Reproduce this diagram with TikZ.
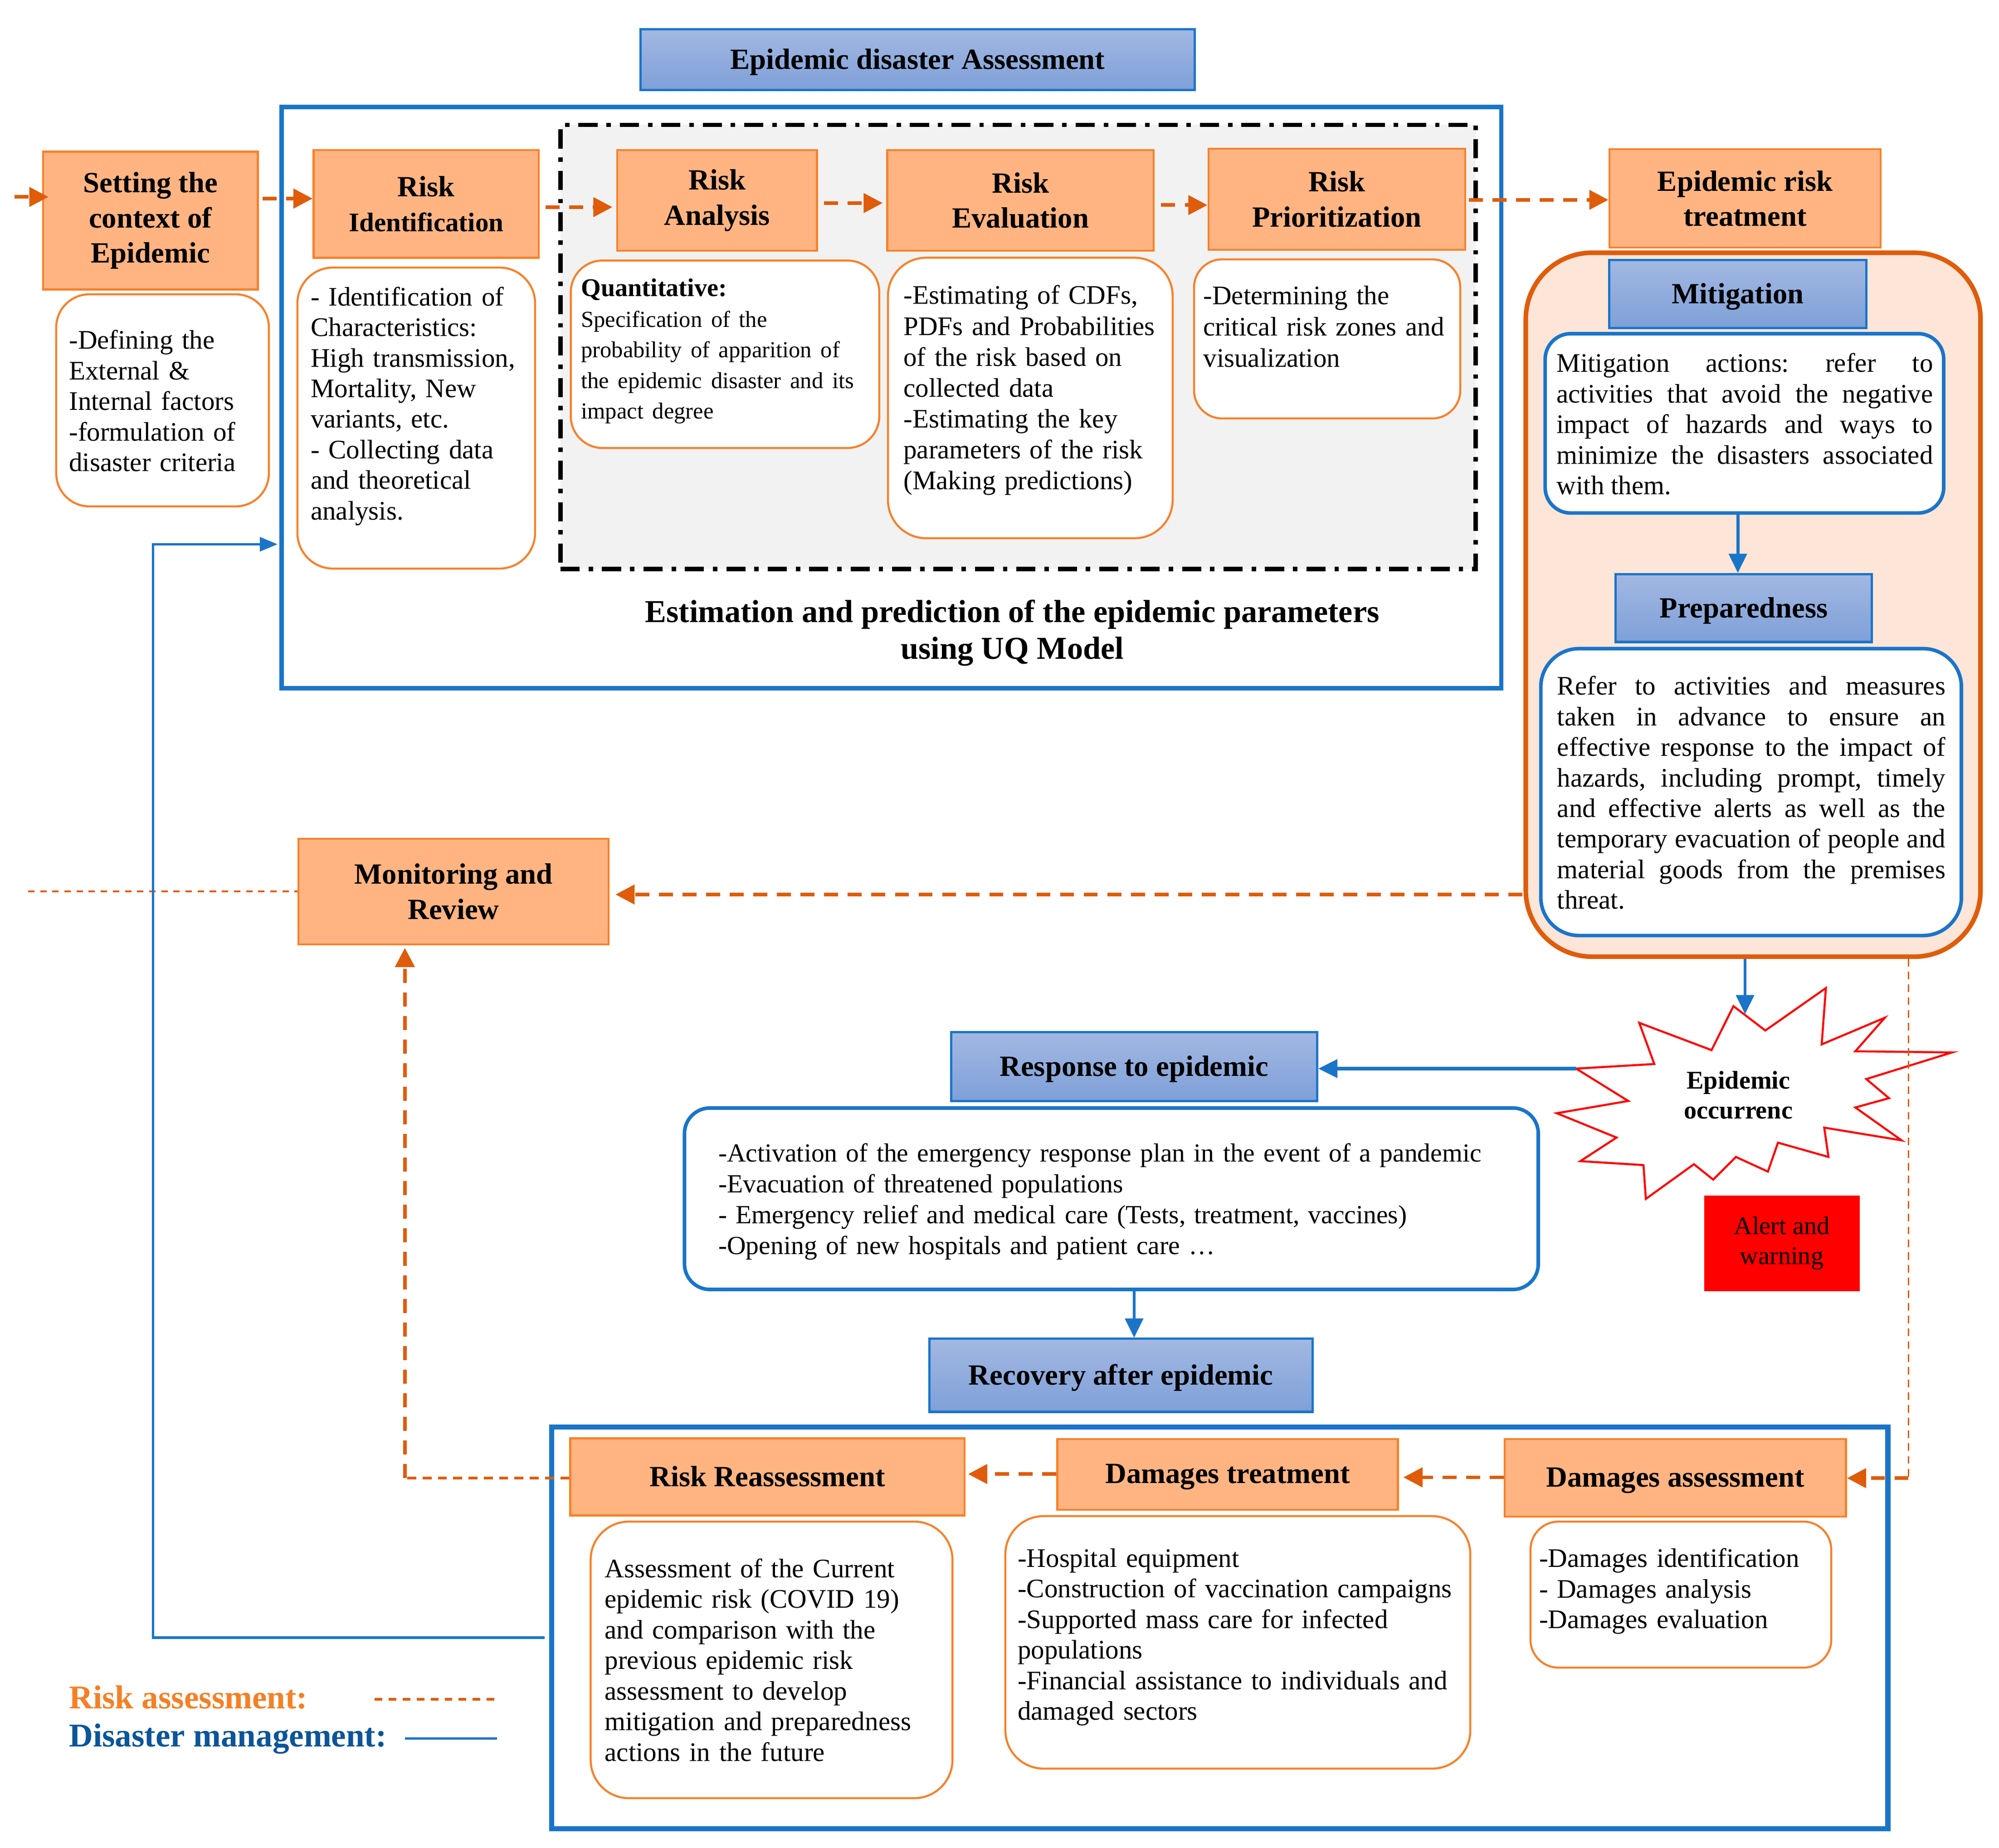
\documentclass[tikz,border=0pt]{standalone}
\usepackage{fontspec}
\setmainfont{Liberation Serif}
\usetikzlibrary{arrows.meta,calc}
\hyphenpenalty=10000
\exhyphenpenalty=10000
\frenchspacing
\definecolor{ofill}{HTML}{FFB482}
\definecolor{oborder}{HTML}{F7812A}
\definecolor{darkor}{HTML}{DF5C0A}
\definecolor{peach}{HTML}{FDE5D7}
\definecolor{blueline}{HTML}{1A75C9}
\definecolor{gradtop}{HTML}{A3B8E2}
\definecolor{gradbot}{HTML}{7EA0D8}
\definecolor{grayfill}{HTML}{F2F2F2}
\definecolor{legor}{HTML}{F58025}
\definecolor{legblue}{HTML}{0B5599}
\newcommand\fsz[2]{\fontsize{#1}{#2}\selectfont}
\begin{document}
\begin{tikzpicture}[x=1pt,y=-1pt,
 obox/.style={draw=oborder, fill=ofill, line width=1.6pt, inner sep=0pt, align=center, font=\bfseries\fsz{23}{27.5}},
 oline/.style={obox, text depth=1pt},
 bbox/.style={draw=blueline, line width=1.8pt, top color=gradtop, bottom color=gradbot, inner sep=0pt, align=center, font=\bfseries\fsz{23}{27.5}, text depth=1pt},
 dbox/.style={draw=oborder, fill=white, line width=1.6pt, inner sep=0pt, rounded corners=26pt},
 wbox/.style={draw=blueline, fill=white, line width=2.8pt, inner sep=0pt},
 dtext/.style={anchor=north west, inner sep=0pt, align=left, font=\fsz{21}{24}},
 jtext/.style={anchor=north west, inner sep=0pt, align=justify, font=\fsz{21}{24}\frenchspacing},
 oarr/.style={draw=darkor, line width=2.8pt, dash pattern=on 11pt off 7.5pt, -{Triangle[length=15pt,width=15pt]}},
 othin/.style={draw=darkor, line width=1pt, dash pattern=on 6pt off 4pt},
 othick/.style={draw=darkor, line width=2pt, dash pattern=on 7pt off 5pt},
 odot/.style={draw=darkor, line width=1.5pt, dash pattern=on 5pt off 4.5pt},
 barr/.style={draw=blueline, line width=2.4pt, -{Triangle[length=15pt,width=14pt]}},
]
\useasboundingbox (0,0) rectangle (1568,1449.6);

% ---------- background frames ----------
\node[draw=black, fill=grayfill, line width=3.5pt, dash pattern=on 15pt off 7pt on 3.5pt off 7pt, minimum width=717.8pt, minimum height=348.4pt, inner sep=0pt] (ddframe) at (798.6,272.2) {};
\node[draw=blueline, line width=3.5pt, minimum width=956.6pt, minimum height=456pt, inner sep=0pt] (assessframe) at (699.3,312) {};
\node[draw=darkor, fill=peach, line width=3.6pt, rounded corners=52pt, minimum width=356.7pt, minimum height=552.3pt, inner sep=0pt] (container) at (1375.15,474.45) {};
\node[draw=blueline, line width=4pt, minimum width=1048.1pt, minimum height=315.1pt, inner sep=0pt] (botframe) at (956.75,1277.25) {};

% ---------- title ----------
\node[bbox, minimum width=434.5pt, minimum height=47.9pt] (title) at (719.75,46.75) {Epidemic disaster Assessment};

% ---------- top row ----------
\node[obox, minimum width=168.4pt, minimum height=108.2pt] (setting) at (118,173.1) {Setting the\\context of\\Epidemic};
\node[dbox, minimum width=166.8pt, minimum height=166.4pt] (settingdesc) at (127.5,314.1) {};
\node[dtext, text width=152pt] (settingtxt) at (54,258.9) {-Defining the\\External \&\\Internal factors\\-formulation of\\disaster criteria};

\node[obox, minimum width=176.6pt, minimum height=84.4pt] (riskid) at (334.3,160) {Risk\\{\fsz{21}{27.5}Identification}};
\node[dbox, minimum width=186.4pt, minimum height=236.2pt, rounded corners=28pt] (riskiddesc) at (326.5,328) {};
\node[dtext, text width=172pt] (riskidtxt) at (243.5,224.8) {- Identification of\\Characteristics:\\High transmission,\\Mortality, New\\variants, etc.\\- Collecting data\\and theoretical\\analysis.};

\node[obox, minimum width=156.6pt, minimum height=78.9pt] (analysis) at (562.5,157.25) {Risk\\Analysis};
\node[dbox, minimum width=242pt, minimum height=147.1pt, rounded corners=25pt] (analysisdesc) at (568.7,277.95) {};
\node[dtext, text width=230pt] (analysistxt) at (455.6,218.5) {{\bfseries\fsz{20}{24}Quantitative:}\\{\fsz{18}{24}Specification of the\\probability of apparition of\\the epidemic disaster and its\\impact degree}};

\node[obox, minimum width=209.1pt, minimum height=78.9pt] (eval) at (800.45,157.25) {Risk\\Evaluation};
\node[dbox, minimum width=223.3pt, minimum height=220.1pt, rounded corners=30pt] (evaldesc) at (808.15,312.25) {};
\node[dtext, text width=208pt, font=\fsz{21}{24.2}] (evaltxt) at (708.5,223.7) {-Estimating of CDFs,\\PDFs and Probabilities\\of the risk based on\\collected data\\-Estimating the key\\parameters of the risk\\(Making predictions)};

\node[obox, minimum width=201.4pt, minimum height=79.4pt] (prior) at (1048.6,156.3) {Risk\\Prioritization};
\node[dbox, minimum width=208.8pt, minimum height=124.8pt, rounded corners=22pt] (priordesc) at (1041,265.9) {};
\node[dtext, text width=198pt, font=\fsz{21}{24.5}] (priortxt) at (943.7,224.2) {-Determining the\\critical risk zones and\\visualization};

\node[font=\bfseries\fsz{25}{29}, align=center, anchor=north, inner sep=0pt] (uqtext) at (794,470.4) {Estimation and prediction of the epidemic parameters\\using UQ Model};

% ---------- treatment column ----------
\node[obox, minimum width=212.8pt, minimum height=77.1pt] (treat) at (1368.8,155.65) {Epidemic risk\\treatment};
\node[bbox, minimum width=201.5pt, minimum height=53.3pt] (mitig) at (1363.15,230.65) {Mitigation};
\node[wbox, rounded corners=20pt, minimum width=312.6pt, minimum height=140.7pt] (mitigbox) at (1368.3,332.15) {};
\node[jtext, text width=295.2pt] (mitigtxt) at (1220.8,277.0) {Mitigation actions: refer to\linebreak activities that avoid the negative\linebreak impact of hazards and ways to\linebreak minimize the disasters associated\linebreak with them.};
\node[bbox, minimum width=201pt, minimum height=53.3pt] (prep) at (1367.8,477.05) {Preparedness};
\node[wbox, rounded corners=30pt, minimum width=329.9pt, minimum height=225.1pt] (prepbox) at (1373.55,621.45) {};
\node[jtext, text width=304.5pt] (preptxt) at (1221.3,530.2) {Refer to activities and measures\linebreak taken in advance to ensure an\linebreak effective response to the impact of\linebreak hazards, including prompt, timely\linebreak and effective alerts as well as the\linebreak temporary evacuation of people and\linebreak material goods from the premises\linebreak threat.};

% ---------- middle ----------
\node[obox, minimum width=243.3pt, minimum height=82.8pt] (monitor) at (355.75,699.5) {Monitoring and\\Review};

\draw[draw=red, line width=1.6pt, fill=white] (1236.3,838.4) -- (1297.6,834.8) -- (1285.8,802.5) -- (1342.5,823.9) -- (1359.7,789.4) -- (1384.7,808.5) -- (1432.2,775.2) -- (1428.9,819.4) -- (1478.4,798.5) -- (1455.3,824.8) -- (1531.2,825.7) -- (1463.9,846.6) -- (1481.7,861.6) -- (1455.3,868.9) -- (1491.6,894.7) -- (1430.9,884.7) -- (1434.2,907.7) -- (1394.6,896.5) -- (1386.7,919.2) -- (1361.6,907.7) -- (1343.8,925.5) -- (1328.7,913.4) -- (1291.0,940.6) -- (1289.1,914.1) -- (1239.6,911.0) -- (1268.0,892.5) -- (1221.1,873.4) -- (1277.2,863.8) -- cycle;
\node[font=\bfseries\fsz{20}{23.6}, align=center, anchor=north, inner sep=0pt] (occur) at (1363.6,840.1) {Epidemic\\occurrenc};

\node[bbox, minimum width=287pt, minimum height=54.1pt] (response) at (889.6,836.75) {Response to epidemic};
\node[wbox, rounded corners=20pt, minimum width=669.7pt, minimum height=142.4pt] (respbox) at (871.75,940.5) {};
\node[dtext, text width=630pt, font=\fsz{20.5}{24.2}] (resptxt) at (563.3,897) {-Activation of the emergency response plan in the event of a pandemic\\-Evacuation of threatened populations\\- Emergency relief and medical care (Tests, treatment, vaccines)\\-Opening of new hospitals and patient care …};

\node[fill=red, minimum width=122pt, minimum height=75.1pt, inner sep=0pt, align=center, font=\fsz{20}{23.6}] (alert) at (1397.6,975.5) {Alert and\\warning};

\node[bbox, minimum width=300.6pt, minimum height=57.3pt] (recovery) at (879.2,1079.05) {Recovery after epidemic};

% ---------- bottom row ----------
\node[oline, minimum width=309.3pt, minimum height=60.5pt] (rr) at (601.95,1158.75) {Risk Reassessment};
\node[oline, minimum width=267.1pt, minimum height=55.5pt] (dt) at (962.95,1156.75) {Damages treatment};
\node[oline, minimum width=267.8pt, minimum height=60.8pt] (da) at (1314.1,1159.4) {Damages assessment};

\node[dbox, minimum width=283.8pt, minimum height=217pt, rounded corners=30pt] (rrdesc) at (605.2,1302.3) {};
\node[dtext, text width=266pt] (rrtxt) at (474.2,1222.7) {Assessment of the Current\\epidemic risk (COVID 19)\\and comparison with the\\previous epidemic risk\\assessment to develop\\mitigation and preparedness\\actions in the future};
\node[dbox, minimum width=364.7pt, minimum height=198.1pt, rounded corners=30pt] (dtdesc) at (970.95,1288.55) {};
\node[dtext, text width=350pt] (dttxt) at (798.1,1214.7) {-Hospital equipment\\-Construction of vaccination campaigns\\-Supported mass care for infected\\populations\\-Financial assistance to individuals and\\damaged sectors};
\node[dbox, minimum width=235.9pt, minimum height=114.6pt, rounded corners=22pt] (dadesc) at (1318.45,1251.1) {};
\node[dtext, text width=225pt] (datxt) at (1207.1,1214.7) {-Damages identification\\- Damages analysis\\-Damages evaluation};

% ---------- legend ----------
\node[anchor=base west, inner sep=0pt, font=\bfseries\fsz{26}{30}, text=legor] (legrisk) at (54,1340.6) {Risk assessment:};
\node[anchor=base west, inner sep=0pt, font=\bfseries\fsz{26}{30}, text=legblue] (legdis) at (54,1370.4) {Disaster management:};
\coordinate (lgA) at (293.8,1333.3);
\coordinate (lgB) at (389.1,1333.3);
\coordinate (lgC) at (317.6,1364);
\coordinate (lgD) at (390,1364);
\draw[draw=darkor, line width=2pt, dash pattern=on 6pt off 5pt] (lgA) -- (lgB);
\draw[draw=blueline, line width=2pt] (lgC) -- (lgD);

% ---------- coordinates ----------
\coordinate (in0) at (11.4,154.5);
\coordinate (yA2) at (0,155.8);
\coordinate (yA3) at (0,162.5);
\coordinate (yA4) at (0,159.3);
\coordinate (yA5) at (0,160.9);
\coordinate (yA6) at (0,156.8);
\coordinate (yMon) at (0,701.8);
\coordinate (yDA) at (0,1159.1);
\coordinate (yDT) at (0,1156.5);
\coordinate (rcorner) at (1497,1159.7);
\coordinate (lcorner) at (317.6,1159.6);
\coordinate (blueA) at (427.2,1284.9);
\coordinate (blueB) at (120.1,1284.9);
\coordinate (blueC) at (120.1,427);
\coordinate (monleft) at (22,699.2);
\coordinate (starleft) at (1236.3,838.4);
\coordinate (startop) at (1368.8,795.7);

% ---------- risk assessment connectors ----------
\draw[oarr] (in0) -- ($(setting.west |- in0)+(5,0)$);
\draw[oarr, shorten <=3pt] (setting.east |- yA2) -- (riskid.west |- yA2);
\draw[oarr, shorten <=4.4pt, shorten >=3pt] (riskid.east |- yA3) -- (analysis.west |- yA3);
\draw[oarr, shorten <=4.8pt, shorten >=2.7pt] (analysis.east |- yA4) -- (eval.west |- yA4);
\draw[oarr, shorten <=5pt] (eval.east |- yA5) -- (prior.west |- yA5);
\draw[oarr, shorten <=2pt] (prior.east |- yA6) -- (treat.west |- yA6);
\draw[oarr, shorten <=1pt, shorten >=4.6pt] (container.west |- yMon) -- (monitor.east |- yMon);
\draw[odot] (monleft) -- (monitor.west |- monleft);
\draw[othin] (container.south -| rcorner) -- (rcorner);
\draw[oarr] (rcorner) -- (da.east |- rcorner);
\draw[oarr, shorten >=3.5pt] (da.west |- yDA) -- (dt.east |- yDA);
\draw[oarr, shorten >=2pt] (dt.west |- yDT) -- (rr.east |- yDT);
\draw[othick] (rr.west |- lcorner) -- (lcorner);
\draw[oarr, shorten >=2pt] (lcorner) -- (monitor.south -| lcorner);

% ---------- disaster management connectors ----------
\draw[barr] (mitigbox.south -| mitig.south) -- (prep.north -| mitig.south);
\draw[barr] (container.south -| startop) -- (startop);
\draw[barr, line width=3pt] (starleft) -- (response.east |- starleft);
\draw[barr] (respbox.south -| response.south) -- (recovery.north -| response.south);
\draw[draw=blueline, line width=2pt, -{Triangle[length=14pt,width=11pt]}, shorten >=1.5pt] (blueA) -- (blueB) -- (blueC) -- (assessframe.west |- blueC);
\end{tikzpicture}
\end{document}
